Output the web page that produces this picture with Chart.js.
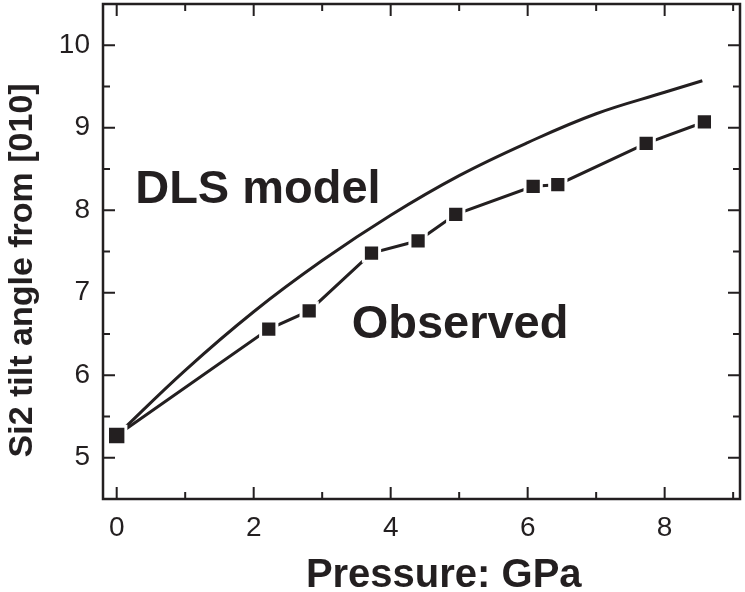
<!DOCTYPE html>
<html>
<head>
<meta charset="utf-8">
<script src="https://cdn.jsdelivr.net/npm/chart.js@4"></script>
<style>
  html, body { margin: 0; padding: 0; background: #fff; }
  #wrap { width: 745px; height: 592px; }
</style>
</head>
<body>
<div id="wrap"><canvas id="myChart" width="745" height="592"></canvas></div>
<script>
  // observed Si2 tilt angles
  const pressure = [0, 2.22, 2.81, 3.72, 4.40, 4.95, 6.08, 6.44, 7.73, 8.58];
  const observed = [5.27, 6.56, 6.78, 7.48, 7.63, 7.95, 8.29, 8.31, 8.81, 9.07];

  // DLS model curve
  const modelPressure = [0, 1, 2, 3, 4, 5, 6, 7, 8, 8.55];
  const modelAngle = [5.27, 6.06, 6.77, 7.39, 7.94, 8.42, 8.82, 9.17, 9.43, 9.57];

  const xTicks = [0, 2, 4, 6, 8];
  const yTicks = [5, 6, 7, 8, 9, 10];

  // text labels placed in data units
  const notes = [
    { text: 'DLS model', x: 0.27, y: 8.085 },
    { text: 'Observed', x: 3.43, y: 6.45 },
  ];

  const ink = '#231f20';
  const fam = '"Liberation Sans", Arial, sans-serif';

  const noPad = s => {
    s.paddingTop = 0; s.paddingBottom = 0; s.paddingLeft = 0; s.paddingRight = 0;
  };

  const frame = {
    id: 'frame',
    afterDatasetsDraw(chart) {
      const { ctx, chartArea: a } = chart;
      const xs = chart.scales.x, ys = chart.scales.y;
      ctx.save();
      ctx.strokeStyle = ink;
      ctx.lineWidth = 2.5;
      ctx.strokeRect(a.left, a.top, a.right - a.left, a.bottom - a.top);
      ctx.lineWidth = 2;
      ctx.beginPath();
      for (let v = 0; v <= 9; v++) {
        const px = xs.getPixelForValue(v);
        const len = v % 2 === 0 ? 12 : 7;
        ctx.moveTo(px, a.bottom); ctx.lineTo(px, a.bottom - len);
        ctx.moveTo(px, a.top); ctx.lineTo(px, a.top + len);
      }
      for (let v = 5; v <= 10; v += 0.5) {
        const py = ys.getPixelForValue(v);
        const len = Number.isInteger(v) ? 12 : 7;
        ctx.moveTo(a.left, py); ctx.lineTo(a.left + len, py);
        ctx.moveTo(a.right, py); ctx.lineTo(a.right - len, py);
      }
      ctx.stroke();

      ctx.fillStyle = ink;
      ctx.font = 'bold 47px ' + fam;
      ctx.textBaseline = 'alphabetic';
      ctx.textAlign = 'left';
      notes.forEach(n => {
        ctx.fillText(n.text, xs.getPixelForValue(n.x), ys.getPixelForValue(n.y));
      });
      ctx.restore();
    }
  };

  const data = {
    datasets: [{
      label: 'DLS model',
      data: modelPressure.map((p, i) => ({ x: p, y: modelAngle[i] })),
      borderColor: ink,
      borderWidth: 3,
      pointRadius: 0,
      tension: 0.4,
      order: 2,
    }, {
      label: 'Observed',
      data: pressure.map((p, i) => ({ x: p, y: observed[i] })),
      borderColor: ink,
      backgroundColor: ink,
      borderWidth: 3,
      pointStyle: 'rect',
      pointRadius: [13, 11.5, 11.5, 11.5, 11.5, 11.5, 11.5, 11.5, 11.5, 11.5],
      pointBackgroundColor: ink,
      pointBorderColor: '#fff',
      pointBorderWidth: 3,
      order: 1,
    }]
  };

  const config = {
    type: 'line',
    data: data,
    options: {
      responsive: false,
      animation: false,
      layout: { autoPadding: false, padding: { top: 4, right: 5, left: 0, bottom: 0 } },
      plugins: { legend: { display: false }, tooltip: { enabled: false } },
      scales: {
        x: {
          type: 'linear',
          min: -0.2,
          max: 9.1,
          afterFit: s => { s.height = 93; noPad(s); },
          afterBuildTicks: s => { s.ticks = xTicks.map(v => ({ value: v })); },
          grid: { display: false, drawTicks: false },
          border: { display: false },
          ticks: {
            color: ink,
            padding: 12,
            font: { family: fam, size: 28 },
          },
          title: {
            display: true,
            text: '    Pressure: GPa',
            color: ink,
            padding: { top: 0, bottom: -4 },
            font: { family: fam, size: 40, weight: 'bold', lineHeight: 1 },
          }
        },
        y: {
          type: 'linear',
          min: 4.5,
          max: 10.5,
          afterFit: s => { s.width = 103; noPad(s); },
          afterBuildTicks: s => { s.ticks = yTicks.map(v => ({ value: v })); },
          grid: { display: false, drawTicks: false },
          border: { display: false },
          ticks: {
            color: ink,
            padding: 13,
            font: { family: fam, size: 28 },
          },
          title: {
            display: true,
            text: 'Si2 tilt angle from [010]    ',
            color: ink,
            padding: { top: 2, bottom: 0 },
            font: { family: fam, size: 34, weight: 'bold' },
          }
        }
      }
    },
    plugins: [frame]
  };

  const myChart = new Chart(document.getElementById('myChart'), config);
</script>
</body>
</html>
